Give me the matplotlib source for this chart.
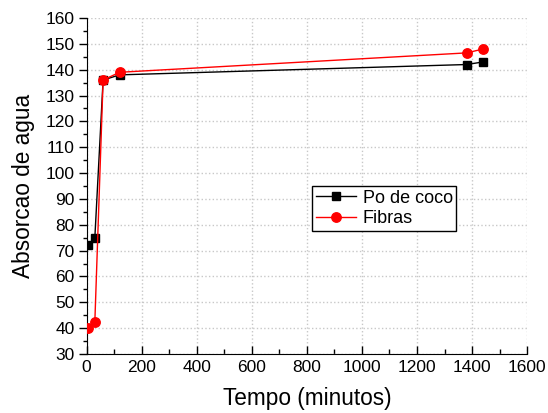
import matplotlib
matplotlib.use("Agg")
import matplotlib.pyplot as plt
from matplotlib.ticker import MultipleLocator

plt.rcParams['font.family'] = ['Liberation Sans', 'DejaVu Sans']

tempo_coco = [5, 30, 60, 120, 1380, 1440]
po_de_coco = [72, 75, 136, 138, 142, 143]
tempo_fibras = [5, 30, 60, 120, 1380, 1440]
fibras = [40, 42.5, 136, 139, 146.5, 148]

fig = plt.figure(figsize=(5.48, 4.13), dpi=100)
ax = fig.add_axes([0.158, 0.1429, 0.804, 0.8135])

ax.plot(tempo_coco, po_de_coco, color='black', lw=1, marker='s', ms=6.3, label='Po de coco', zorder=3)
ax.plot(tempo_fibras, fibras, color='red', lw=1, marker='o', ms=6.8, label='Fibras', zorder=4)

ax.set_xlim(0, 1600)
ax.set_ylim(30, 160)
ax.xaxis.set_major_locator(MultipleLocator(200))
ax.xaxis.set_minor_locator(MultipleLocator(100))
ax.yaxis.set_major_locator(MultipleLocator(10))
ax.yaxis.set_minor_locator(MultipleLocator(5))

ax.spines['top'].set_visible(False)
ax.spines['right'].set_visible(False)
ax.tick_params(axis='x', which='major', direction='in', length=6, width=1, labelsize=12.5, pad=4)
ax.tick_params(axis='x', which='minor', direction='in', length=3.5, width=1)
ax.tick_params(axis='y', which='major', direction='out', length=5.5, width=1, labelsize=12.5, pad=3)
ax.tick_params(axis='y', which='minor', direction='out', length=3, width=1)

ax.grid(True, which='major', color='#c8c8c8', linestyle=':', linewidth=1)
ax.set_axisbelow(True)

ax.set_xlabel('Tempo (minutos)', fontsize=16.3, labelpad=9)
ax.set_ylabel('Absorcao de agua', fontsize=16.3, labelpad=8)

leg = ax.legend(loc='upper left', bbox_to_anchor=(0.512, 0.5), borderaxespad=0,
                fontsize=13, frameon=True, fancybox=False, edgecolor='black',
                handlelength=2.2, handletextpad=0.4, borderpad=0.2, labelspacing=0.2)
leg.get_frame().set_linewidth(1)
leg.get_frame().set_alpha(1)

fig.savefig('out.png', dpi=100)
